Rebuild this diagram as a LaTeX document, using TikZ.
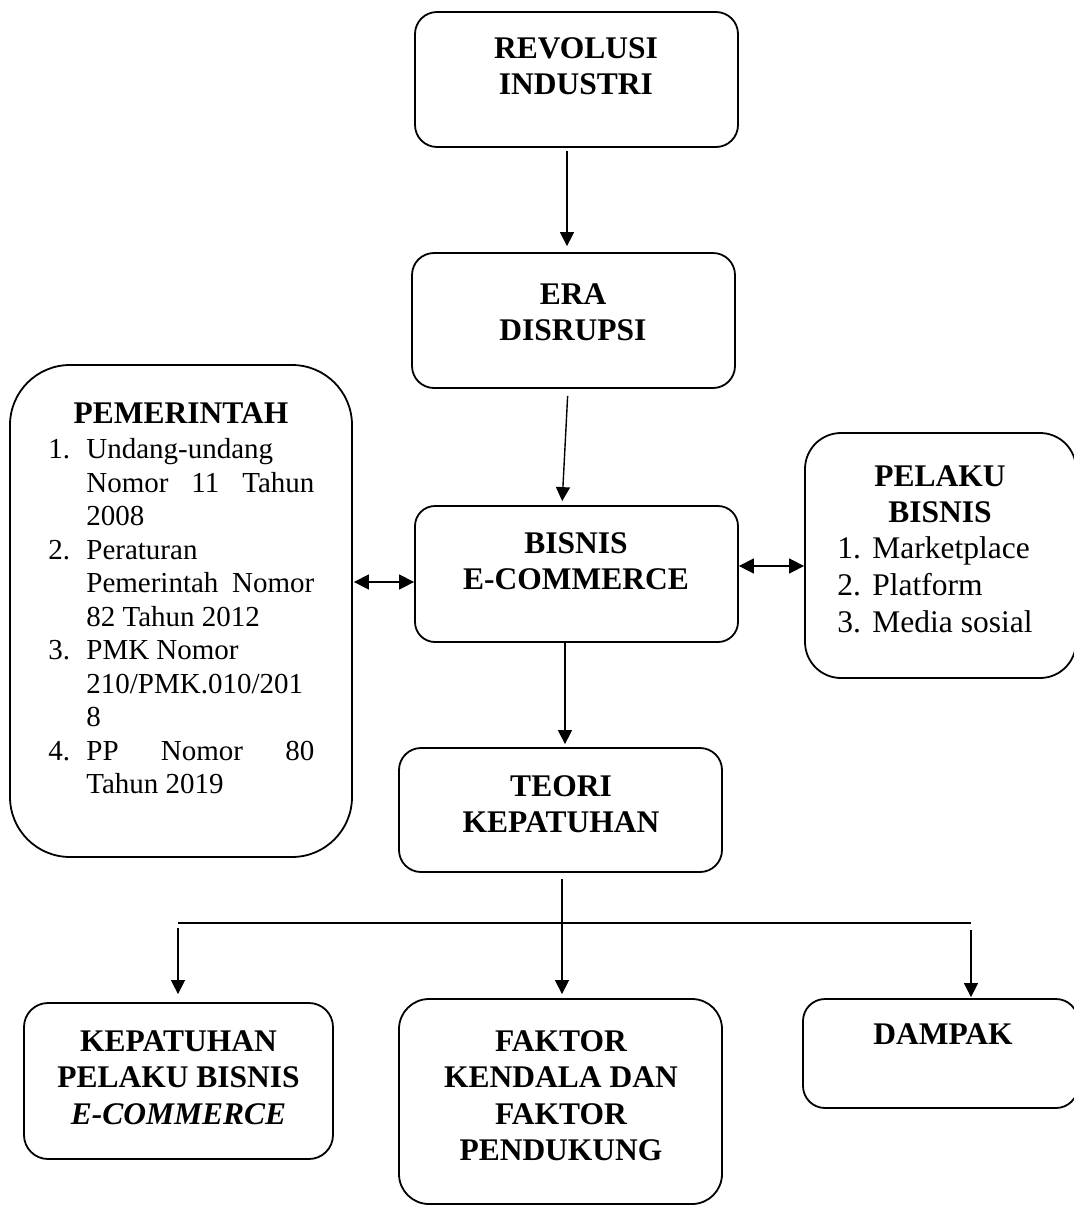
\documentclass[tikz,border=0pt]{standalone}
\usepackage{fontspec}
\setmainfont{Liberation Serif}
\usetikzlibrary{arrows.meta}

\begin{document}
\begin{tikzpicture}[x=0.5pt,y=-0.5pt]
                \tikzstyle{every node}+=[inner sep=0pt]
                \tikzstyle{box}=[draw, line width=0.9pt, minimum width=161.5pt]
                \tikzstyle{boxtext}=[font=\fontsize{15.75}{18.25}\selectfont\bfseries, align=center, anchor=north]
                \tikzstyle{list}=[font=\fontsize{14.5}{16.75}\selectfont, align=left, anchor=north west]
                \tikzstyle{line}=[line width=0.7pt]
                \tikzstyle{arr}=[line, -{Triangle[width=7pt,length=7pt]}]
                \tikzstyle{darr}=[line, {Triangle[width=7.5pt,length=7.5pt]}-{Triangle[width=7.5pt,length=7.5pt]}]
                \useasboundingbox (0,0) rectangle (1074,1205);
                % kotak
                \node [box, rounded corners=11pt, minimum height=67.5pt] (rev) at (576.5,79.5) {};
                \node [box, rounded corners=11pt, minimum height=67.5pt] (era) at (573.5,320.5) {};
                \node [box, rounded corners=10pt, minimum height=68pt] (bis) at (576.5,574) {};
                \node [box, rounded corners=11pt, minimum height=62pt] (teori) at (560.5,810) {};
                \node [box, rounded corners=30pt, minimum width=171pt, minimum height=246pt] (pem) at (181,611) {};
                \node [box, rounded corners=18pt, minimum width=135.5pt, minimum height=122.5pt] (pel) at (940.5,555.5) {};
                \node [box, rounded corners=12pt, minimum width=154.5pt, minimum height=78pt] (kep) at (178.5,1081) {};
                \node [box, rounded corners=15pt, minimum height=102.5pt] (fak) at (560.5,1101.5) {};
                \node [box, rounded corners=11pt, minimum width=137.5pt, minimum height=54.5pt] (dam) at (940.5,1053.5) {};
                % teks
                \node [boxtext] (revtxt) at (576,37) {REVOLUSI\\INDUSTRI};
                \node [boxtext] (eratxt) at (573,283) {ERA\\DISRUPSI};
                \node [boxtext] (bistxt) at (576,532) {BISNIS\\E-COMMERCE};
                \node [boxtext] (teoritxt) at (561,775) {TEORI\\KEPATUHAN};
                \node [boxtext] (pemtxt) at (181,402) {PEMERINTAH};
                \node [list] (pemlist) at (48,438) {\makebox[19pt][l]{1.}Undang-undang\\
                    \hspace*{19pt}\makebox[114pt][s]{Nomor 11 Tahun}\\
                    \hspace*{19pt}2008\\
                    \makebox[19pt][l]{2.}Peraturan\\
                    \hspace*{19pt}\makebox[114pt][s]{Pemerintah Nomor}\\
                    \hspace*{19pt}82 Tahun 2012\\
                    \makebox[19pt][l]{3.}PMK Nomor\\
                    \hspace*{19pt}210/PMK.010/201\\
                    \hspace*{19pt}8\\
                    \makebox[19pt][l]{4.}\makebox[114pt][s]{PP Nomor 80}\\
                    \hspace*{19pt}Tahun 2019};
                \node [boxtext] (peltxt) at (940,465) {PELAKU\\BISNIS};
                \node [list, font=\fontsize{15.75}{18.5}\selectfont] (pellist) at (837,536.5) {\makebox[17.5pt][l]{1.}Marketplace\\
                    \makebox[17.5pt][l]{2.}Platform\\
                    \makebox[17.5pt][l]{3.}Media sosial};
                \node [boxtext] (keptxt) at (178.5,1030) {KEPATUHAN\\PELAKU BISNIS\\\textit{E-COMMERCE}};
                \node [boxtext] (faktxt) at (561,1030) {FAKTOR\\KENDALA DAN\\FAKTOR\\PENDUKUNG};
                \node [boxtext] (damtxt) at (943,1023) {DAMPAK};
                % panah
                \draw [arr, shorten <=1.5pt, shorten >=3pt] ([xshift=-4.75pt]rev.south) -- ([xshift=-3.25pt]era.north);
                \draw [arr, shorten <=3.5pt, shorten >=2pt] ([xshift=-2.75pt]era.south) -- ([xshift=-7.25pt]bis.north);
                \draw [arr, shorten >=1.5pt] ([xshift=-5.75pt]bis.south) -- ([xshift=2.25pt]teori.north);
                \draw [darr, shorten <=0.5pt] ([yshift=14.5pt]pem.east) -- ([yshift=-4pt]bis.west);
                \draw [darr] ([yshift=4pt]bis.east) -- ([yshift=-5.25pt]pel.west);
                \draw [arr, shorten <=3pt, shorten >=2pt] ([xshift=0.75pt]teori.south) -- ([xshift=0.75pt]fak.north);
                \coordinate (cabangkiri) at (178,923);
                \coordinate (cabangkanan) at (971,923);
                \draw [line] (cabangkiri) -- (cabangkanan);
                \draw [arr, shorten >=4pt] ([yshift=-2.5pt]cabangkiri) -- (kep.north -| cabangkiri);
                \draw [arr, shorten >=0.5pt] ([yshift=-3.5pt]cabangkanan) -- (dam.north -| cabangkanan);
\end{tikzpicture}
\end{document}
